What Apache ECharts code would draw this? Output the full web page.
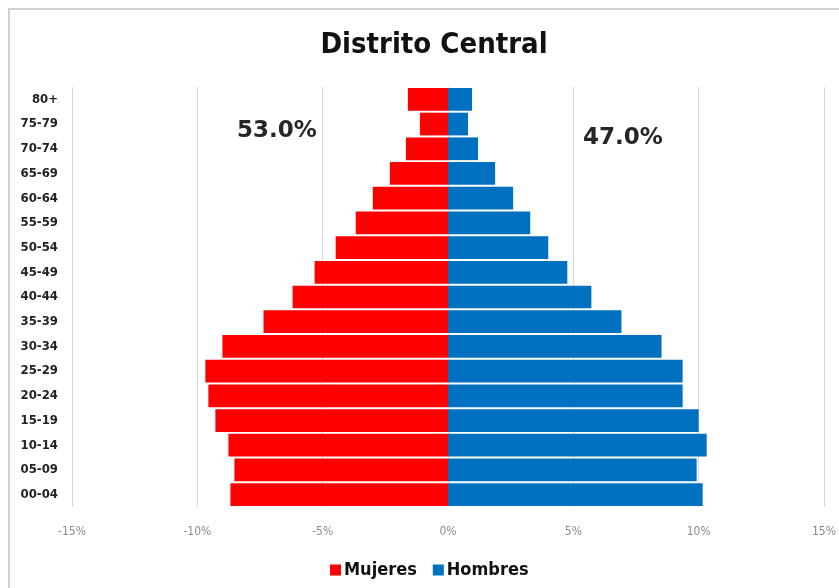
<!DOCTYPE html>
<html>
<head>
<meta charset="utf-8">
<script src="https://cdn.jsdelivr.net/npm/echarts@6/dist/echarts.min.js"></script>
<style>
  html, body { margin: 0; padding: 0; background: #fff; }
  #chart { width: 839px; height: 588px; }
</style>
</head>
<body>
<div id="chart"></div>
<script>
// grupos de edad, de abajo hacia arriba
const ageGroups = ['00-04', '05-09', '10-14', '15-19', '20-24', '25-29', '30-34', '35-39',
  '40-44', '45-49', '50-54', '55-59', '60-64', '65-69', '70-74', '75-79', '80+']
// porcentajes (mujeres van a la izquierda, en negativo)
const mujeres = [8.68, 8.52, 8.76, 9.28, 9.56, 9.68, 9.0, 7.36, 6.2, 5.32, 4.48, 3.68, 3.0, 2.32, 1.68, 1.12, 1.6]
const hombres = [10.16, 9.92, 10.32, 10.0, 9.36, 9.36, 8.52, 6.92, 5.72, 4.76, 4.0, 3.28, 2.6, 1.88, 1.2, 0.8, 0.96]
const totalMujeres = '53.0%'
const totalHombres = '47.0%'

const narrow = '"DejaVu Sans Condensed", "Liberation Sans Narrow", sans-serif'

const chart = echarts.init(document.getElementById('chart'))

const options = {
  animation: false,
  title: {
    text: 'Distrito Central',
    left: 429,
    textAlign: 'center',
    top: 26,
    textStyle: {
      fontFamily: narrow,
      fontWeight: 'bold',
      fontSize: 29,
      color: '#111'
    }
  },
  legend: {
    bottom: 4,
    left: 325,
    itemWidth: 11,
    itemHeight: 11,
    itemGap: 16,
    icon: 'rect',
    textStyle: {
      fontFamily: narrow,
      fontWeight: 'bold',
      fontSize: 18,
      color: '#111',
      padding: [0, 0, 0, -2]
    },
    data: ['Mujeres', 'Hombres']
  },
  grid: {
    left: 72,
    right: 839 - 824,
    top: 87,
    bottom: 588 - 507,
    containLabel: false
  },
  xAxis: {
    type: 'value',
    min: -15,
    max: 15,
    interval: 5,
    axisLine: { show: false },
    axisTick: { show: false },
    splitLine: { lineStyle: { color: '#d9d9d9', width: 1 } },
    axisLabel: {
      formatter: v => v + '%',
      color: '#8c8c8c',
      fontSize: 12,
      fontFamily: narrow,
      margin: 19
    }
  },
  yAxis: {
    type: 'category',
    data: ageGroups,
    axisLine: { show: false },
    axisTick: { show: false },
    axisLabel: {
      color: '#222',
      fontWeight: 'bold',
      fontSize: 13,
      fontFamily: narrow,
      margin: 14
    }
  },
  series: [
    {
      name: 'Mujeres',
      type: 'bar',
      stack: 'pop',
      barCategoryGap: '8%',
      itemStyle: { color: '#ff0000' },
      data: mujeres.map(v => -v)
    },
    {
      name: 'Hombres',
      type: 'bar',
      stack: 'pop',
      barCategoryGap: '8%',
      itemStyle: { color: '#0070c0' },
      data: hombres
    }
  ],
  graphic: [
    {
      type: 'rect',
      shape: { x: 9, y: 9, width: 840, height: 590 },
      style: { fill: 'none', stroke: '#d0d0d0', lineWidth: 2 },
      silent: true
    },
    {
      type: 'text',
      left: 237,
      top: 120,
      style: {
        text: totalMujeres,
        font: 'bold 23px "DejaVu Sans", Verdana, sans-serif',
        fill: '#262626'
      }
    },
    {
      type: 'text',
      left: 583,
      top: 127,
      style: {
        text: totalHombres,
        font: 'bold 23px "DejaVu Sans", Verdana, sans-serif',
        fill: '#262626'
      }
    }
  ]
}

chart.setOption(options)
</script>
</body>
</html>
